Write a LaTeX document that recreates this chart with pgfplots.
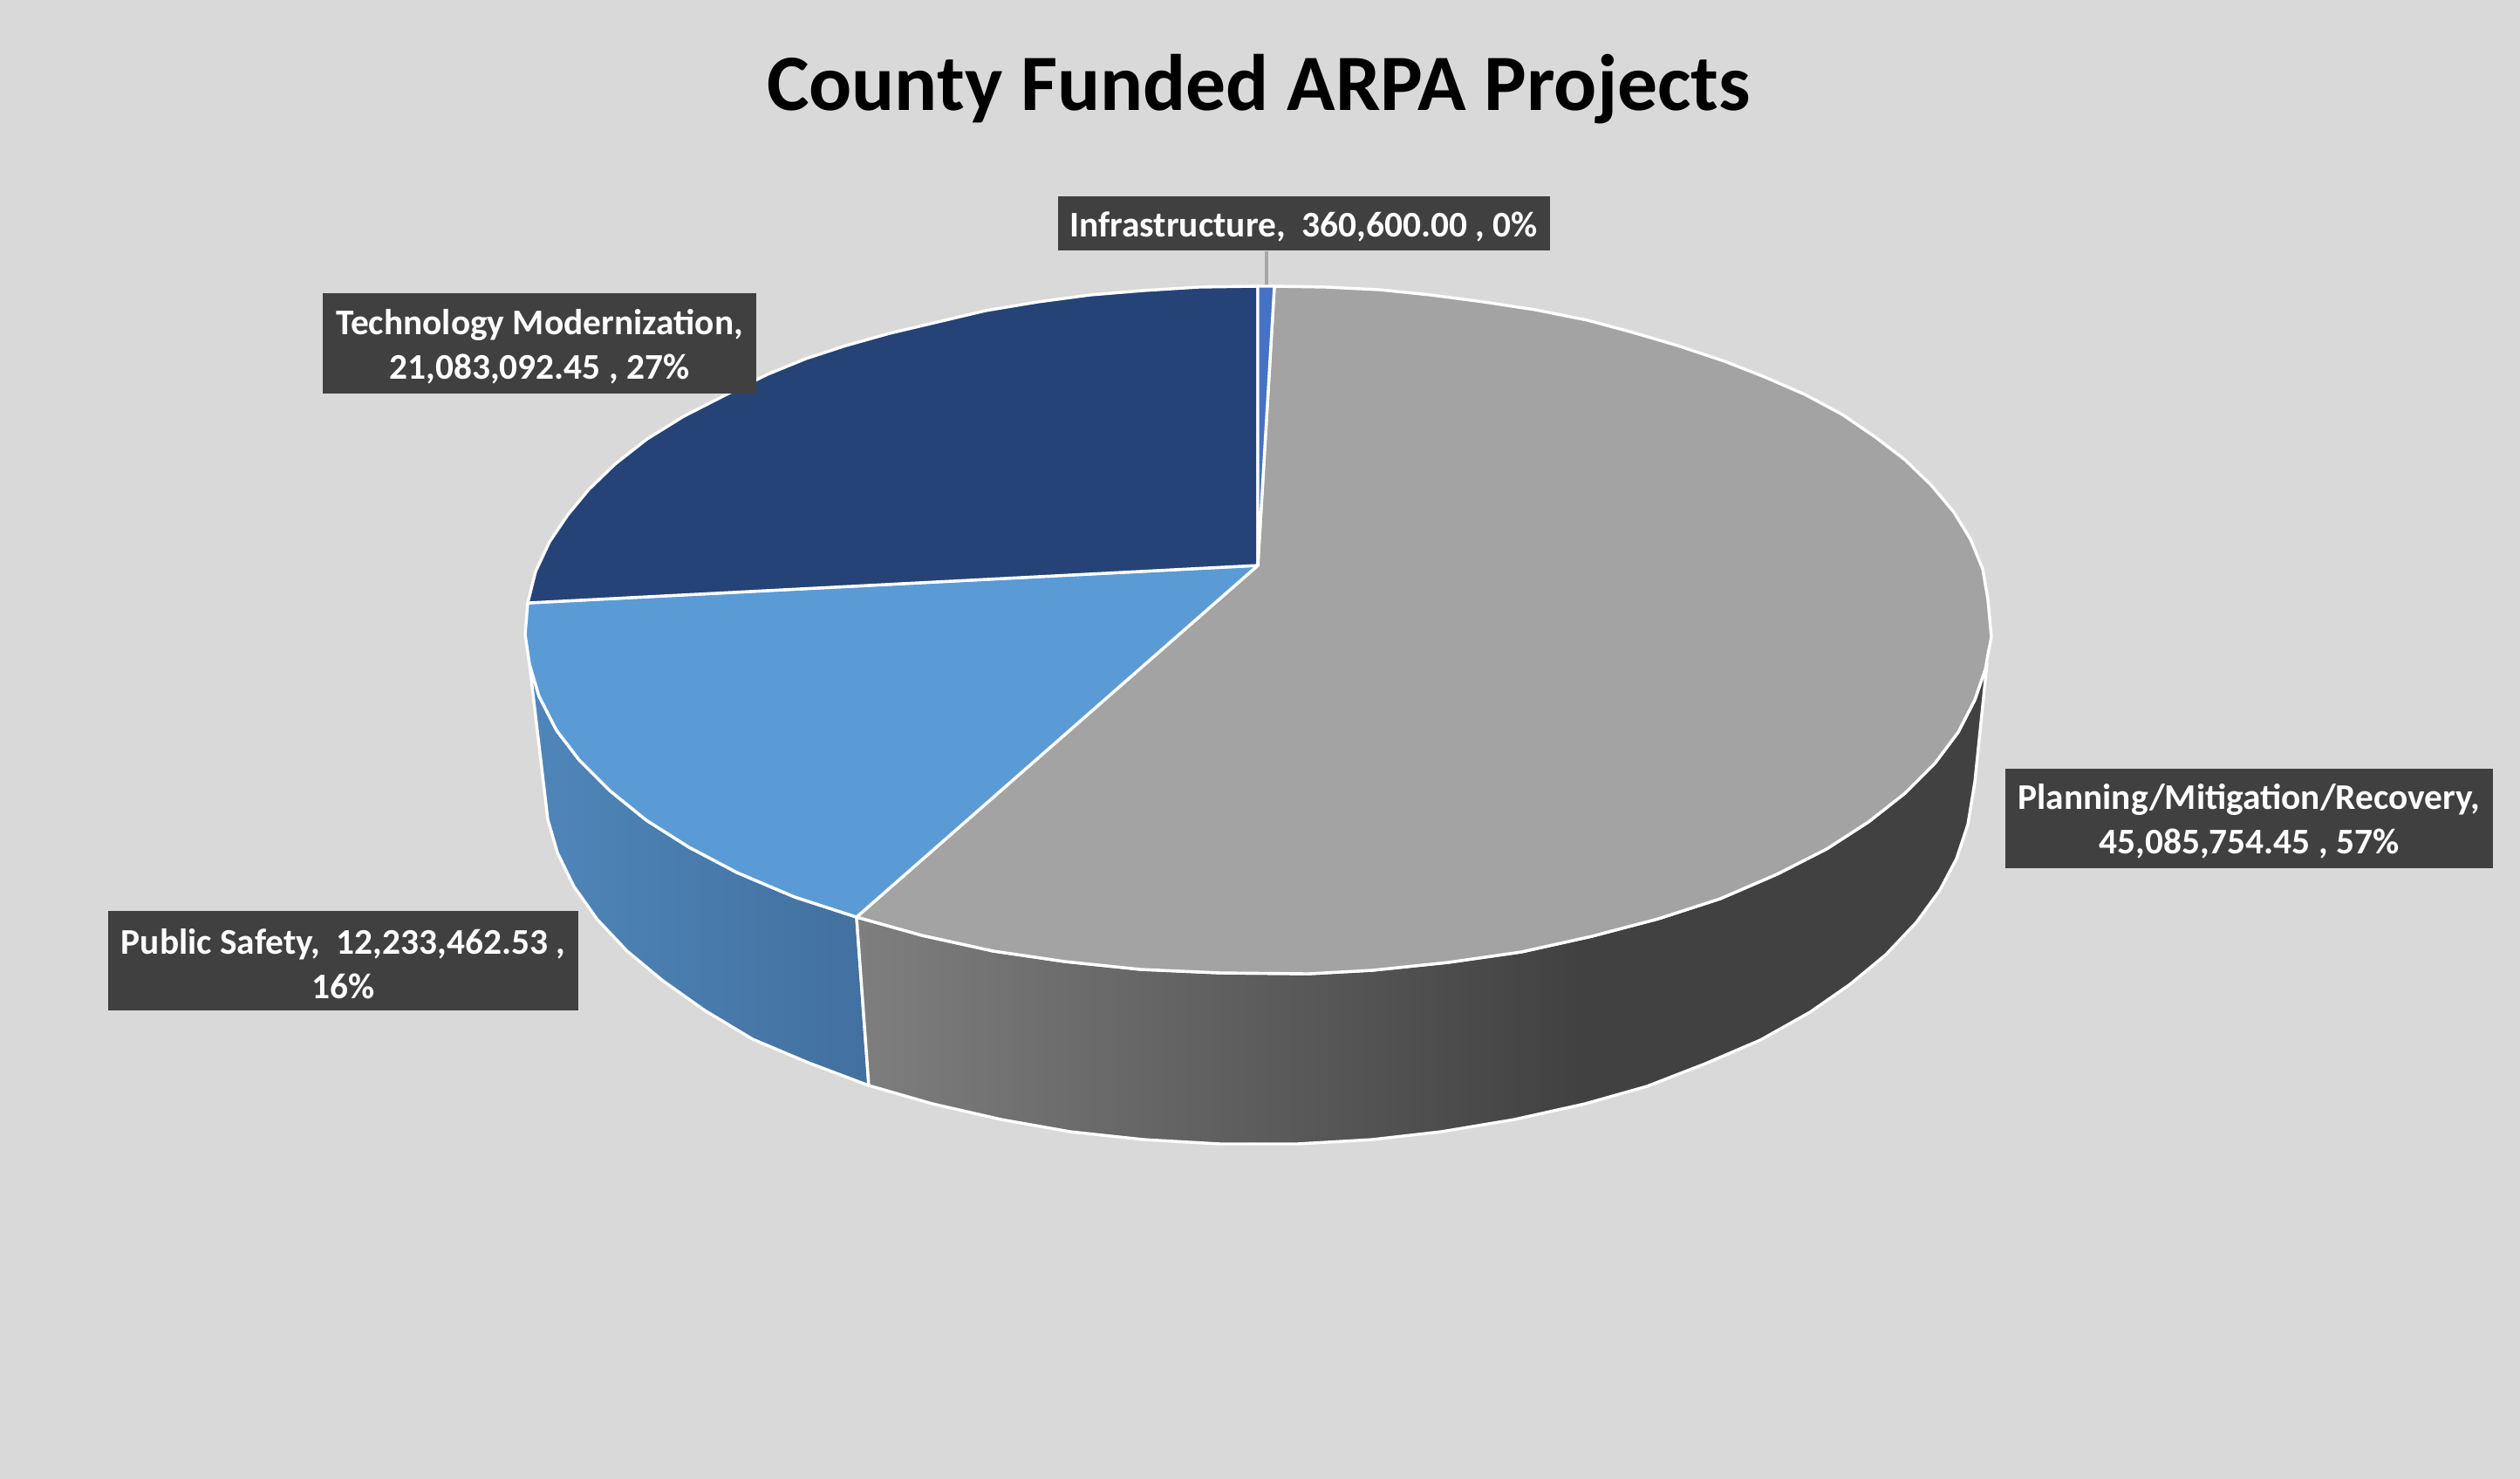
\documentclass[border=0pt]{standalone}
\usepackage{pgfplots}
\pgfplotsset{compat=1.18}
\usepackage{fontspec}
\setmainfont{Carlito}
\definecolor{bg}{HTML}{D9D9D9}
\definecolor{boxc}{HTML}{404040}
\definecolor{plantop}{HTML}{A3A3A3}
\definecolor{pubtop}{HTML}{5B9BD5}
\definecolor{techtop}{HTML}{254377}
\definecolor{infratop}{HTML}{4472C4}
\definecolor{leader}{HTML}{A6A6A6}
\pgfdeclarehorizontalshading{planside}{100bp}{color(0bp)=(white!49.6!black); color(25bp)=(white!49.6!black); color(57bp)=(white!25.5!black); color(100bp)=(white!25.5!black)}
\definecolor{pubL}{HTML}{4F86BA}
\definecolor{pubR}{HTML}{42709F}
\pgfdeclarehorizontalshading{pubside}{100bp}{color(0bp)=(pubL); color(25bp)=(pubL); color(75bp)=(pubR); color(100bp)=(pubR)}
\tikzset{lbl/.style={font=\fontsize{10.35}{12.7}\selectfont\bfseries, text=white, align=center, inner sep=0pt},
  lblbox/.style={fill=boxc, inner sep=0pt}}
\begin{document}
\begin{tikzpicture}
\begin{axis}[
  width=722.25pt, height=423.75pt, scale only axis,
  xmin=0, xmax=2889, ymin=0, ymax=1695, y dir=reverse,
  hide axis, line join=round
]
% background
\addplot[fill=bg, draw=none] coordinates {(0,0)(2889,0)(2889,1695)(0,1695)} -- cycle;
% leader
\addplot[color=leader, line width=0.8pt] coordinates {(1452,288)(1452,328)};
% side: public safety
\addplot[shade, shading=pubside, draw=white, line width=0.85pt] coordinates {
 (607,761)(618,798)(638,837)(664,871)(699,906)(741,940)(790,971)(845,1000)(911,1028)(982,1051)
 (996,1244)(927,1218)(863,1191)(808,1158)(760,1124)(719,1090)(685,1054)(658,1016)(639,977)(628,939)(607,761)} -- cycle;
% side: planning
\addplot[shade, shading=planside, draw=white, line width=0.85pt] coordinates {
 (982,1051)(1057,1072)(1139,1090)(1221,1102)(1308,1111)(1399,1115)(1500,1116)(1573,1112)(1660,1103)(1744,1091)(1825,1073)(1901,1053)(1972,1030)(2037,1002)(2094,973)(2142,942)(2184,909)(2218,875)(2245,839)(2264,802)(2276,767)(2278,760)
 (2264,896)(2256,945)(2243,984)(2224,1020)(2197,1057)(2162,1094)(2121,1128)(2075,1160)(2018,1192)(1955,1219)(1888,1245)(1817,1265)(1736,1283)(1652,1297)(1573,1306)(1487,1311)(1399,1311)(1311,1306)(1227,1297)(1148,1283)(1069,1265)(996,1244)} -- cycle;
% top: planning
\addplot[fill=plantop, draw=white, line width=0.85pt] coordinates {
 (1442,648)(1461,328)(1520,329)(1581,332)(1640,338)(1701,346)(1760,355)(1820,367)(1872,381)(1923,396)(1977,414)(2023,432)(2069,452)(2112,475)(2150,501)(2184,527)(2214,556)(2240,587)(2259,618)(2273,652)(2279,687)(2282,720)(2283,730)(2279,750)(2276,767)(2264,802)(2245,839)(2218,875)(2184,909)(2142,942)(2094,973)(2037,1002)(1972,1030)(1901,1053)(1825,1073)(1744,1091)(1660,1103)(1573,1112)(1500,1116)(1399,1115)(1308,1111)(1221,1102)(1139,1090)(1057,1072)(982,1051)} -- cycle;
% top: public safety
\addplot[fill=pubtop, draw=white, line width=0.85pt] coordinates {
 (1442,648)(982,1051)(911,1028)(845,1000)(790,971)(741,940)(699,906)(664,871)(638,837)(618,798)(607,761)(602,727)(605,691)} -- cycle;
% top: technology
\addplot[fill=techtop, draw=white, line width=0.85pt] coordinates {
 (1442,648)(605,691)(614,655)(630,621)(651,590)(675,561)(705,532)(742,503)(784,477)(833,452)(880,429)(924,411)(970,396)(1020,382)(1075,369)(1130,356)(1190,346)(1250,338)(1311,333)(1375,329)(1442,328)} -- cycle;
% top: infrastructure
\addplot[fill=infratop, draw=white, line width=0.85pt] coordinates {(1442,648)(1442,328)(1461,328)} -- cycle;
% title
\node[text=black, font=\fontsize{22.9}{26}\selectfont\bfseries] at (axis cs:1443,102) {County Funded ARPA Projects};
% label boxes
\node[lblbox, minimum width=141pt, minimum height=15.5pt] at (axis cs:1494.5,256) {};
\node[lblbox, minimum width=124.25pt, minimum height=28.75pt] at (axis cs:618.5,393.5) {};
\node[lblbox, minimum width=134.75pt, minimum height=28.5pt] at (axis cs:393.5,1101) {};
\node[lblbox, minimum width=139.75pt, minimum height=28.5pt] at (axis cs:2578.5,938) {};
% label texts
\node[lbl] at (axis cs:1494.5,260) {Infrastructure,\ \ 360,600.00 , 0\%};
\node[lbl] at (axis cs:618.5,397) {Technology Modernization,\\21,083,092.45 , 27\%};
\node[lbl] at (axis cs:393.5,1104.5) {Public Safety,\ \ 12,233,462.53 ,\\16\%};
\node[lbl] at (axis cs:2578.5,941.5) {Planning/Mitigation/Recovery,\\45,085,754.45 , 57\%};
\end{axis}
\end{tikzpicture}
\end{document}
